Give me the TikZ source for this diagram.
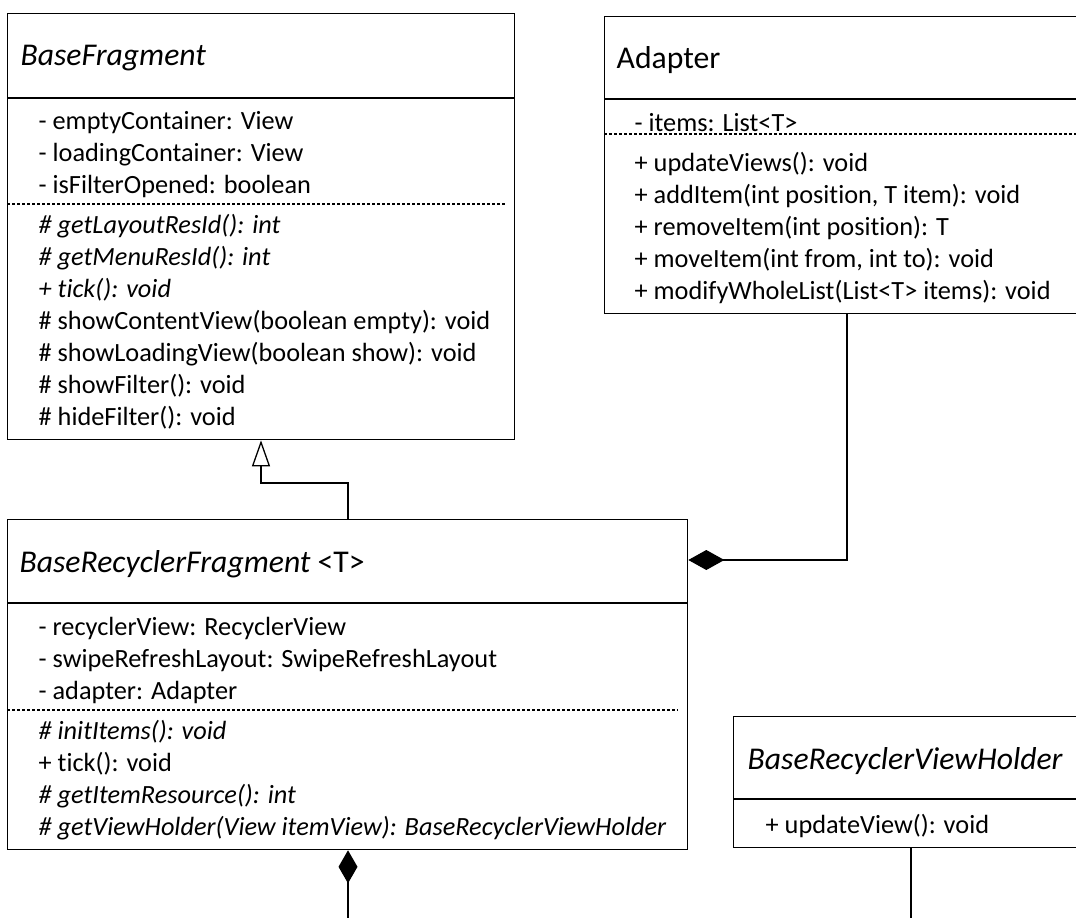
\documentclass[tikz,border=0pt]{standalone}
\usepackage{fontspec}
\setmainfont{Carlito}[Ligatures=NoCommon]
\usetikzlibrary{arrows.meta}

\begin{document}
\begin{tikzpicture}[x=1bp,y=-1bp,line width=1.3bp,
  box/.style={draw,anchor=north west,inner sep=0pt},
  item/.style={anchor=base west,inner sep=0pt,font=\fontsize{26.4}{30}\selectfont},
  cname/.style={anchor=base west,inner sep=0pt,font=\fontsize{31.8}{37}\selectfont},
  sep/.style={line width=1.2bp,dash pattern=on 3.3bp off 1.7bp},
  gen/.style={-{Triangle[open,length=26bp,width=18bp]}},
  comp/.style={{Diamond[length=36bp,width=20bp]}-}]
\useasboundingbox (0,0) rectangle (1076,918);
\clip (0,0) rectangle (1076,918);
% class boxes
\node[box,minimum width=507bp,minimum height=426bp] (bf) at (7,13) {};
\node[box,minimum width=490bp,minimum height=297bp] (ad) at (604,16) {};
\node[box,minimum width=680bp,minimum height=330bp] (brf) at (7,519) {};
\node[box,minimum width=360bp,minimum height=131bp] (vh) at (733,716) {};
\draw (7,98)--(514,98) (604,99)--(1094,99) (7,603)--(687,603) (733,799)--(1093,799);
\draw[sep] (7,204)--(505,204) (604,134)--(1076,134) (7,710)--(678,710);
% names
\node[cname] (bft) at (20,65) {\itshape BaseFragment};
\node[cname] (adt) at (616,68) {Adapter};
\node[cname] (brft) at (19,572) {{\itshape BaseRecyclerFragment} <T>};
\node[cname] (vht) at (747,769) {\itshape BaseRecyclerViewHolder};
% members
\foreach \y/\t [count=\i] in {129/- emptyContainer: View,161/- loadingContainer: View,
  193/- isFilterOpened: boolean,233/{\itshape\# getLayoutResId(): int},
  265/{\itshape\# getMenuResId(): int},297/{\itshape+ tick(): void},
  329/\# showContentView(boolean empty): void,361/\# showLoadingView(boolean show): void,
  393/\# showFilter(): void,425/\# hideFilter(): void}{
\node[item] (bf\i) at (38,\y) {\t};}
\foreach \y/\t [count=\i] in {131/- items: List<T>,171/+ updateViews(): void,
  {203/+ addItem(int position, T item): void},235/+ removeItem(int position): T,
  {267/+ moveItem(int from, int to): void},299/+ modifyWholeList(List<T> items): void}{
\node[item] (ad\i) at (634,\y) {\t};}
\foreach \y/\t [count=\i] in {635/- recyclerView: RecyclerView,
  667/- swipeRefreshLayout: SwipeRefreshLayout,699/- adapter: Adapter,
  739/{\itshape\# initItems(): void},771/+ tick(): void,
  803/{\itshape\# getItemResource(): int},
  835/{\itshape\# getViewHolder(View itemView): BaseRecyclerViewHolder}}{
\node[item] (brf\i) at (38,\y) {\t};}
\node[item] (vh1) at (765,833) {+ updateView(): void};
% relations
\coordinate (genbend) at (348,483);
\coordinate (gentip) at (261,483);
\draw[gen] (genbend |- brf.north) -- (genbend) -- (gentip) -- (gentip |- bf.south);
\coordinate (compbend) at (847,560);
\draw[comp] (compbend -| brf.east) -- (compbend) -- (compbend |- ad.south);
\coordinate (brfout) at (348,918);
\draw[{Diamond[length=33bp,width=19bp]}-] (brfout |- brf.south) -- (brfout);
\coordinate (vhout) at (911,918);
\draw (vhout |- vh.south) -- (vhout);
\end{tikzpicture}
\end{document}
